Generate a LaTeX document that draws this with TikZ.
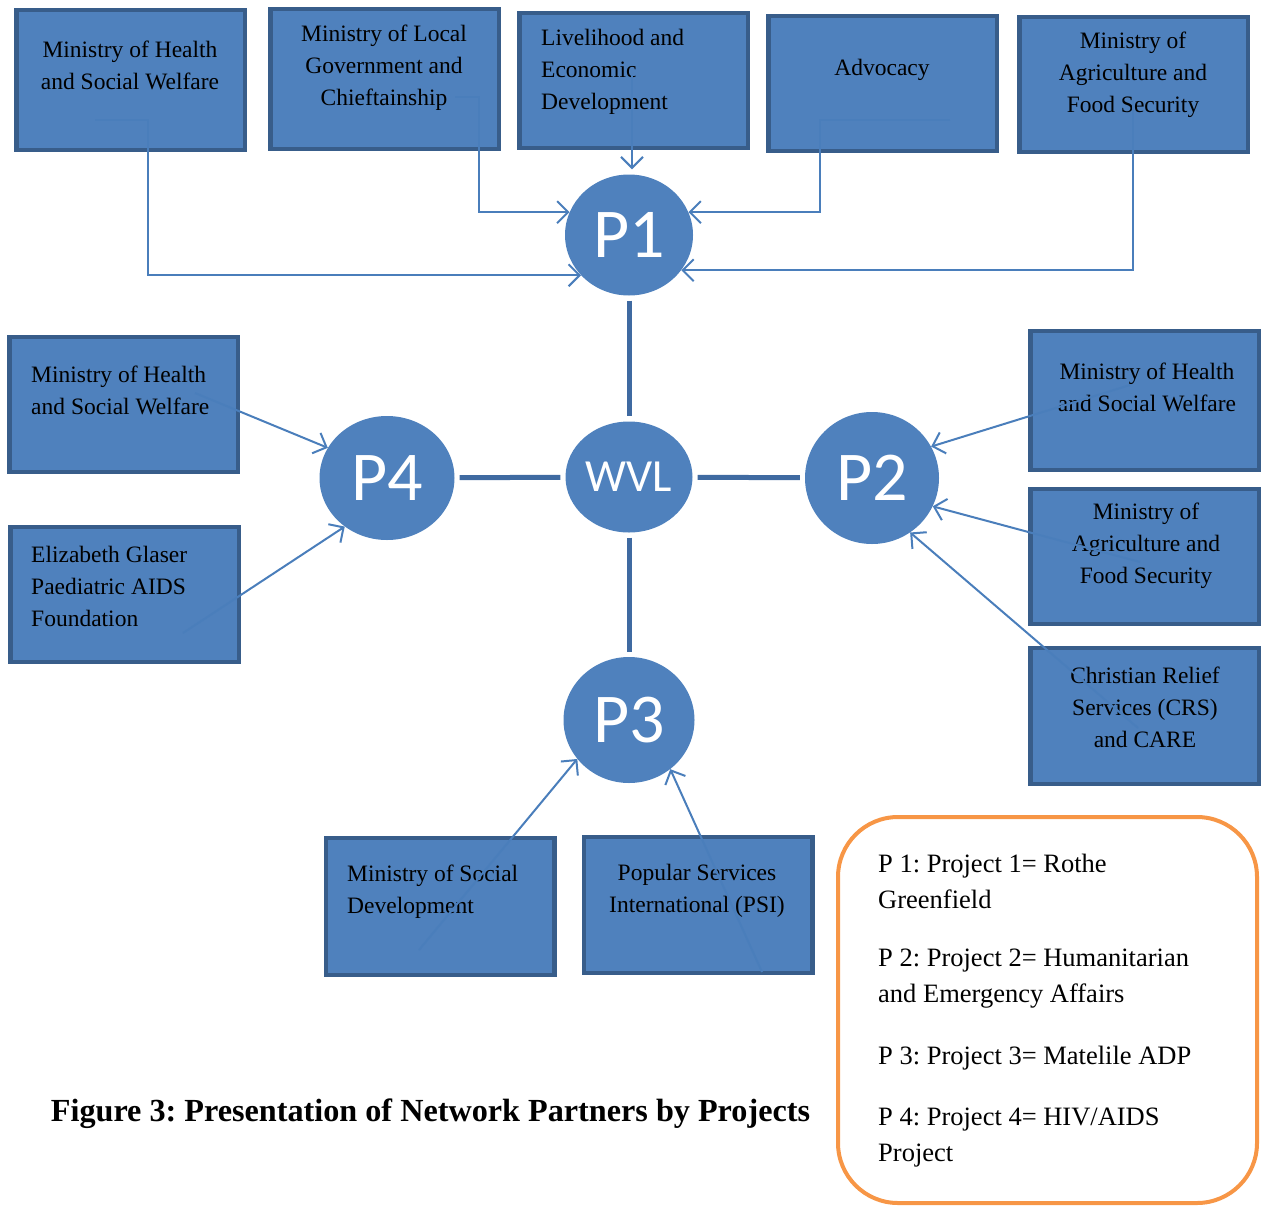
\documentclass[tikz,border=0pt]{standalone}
\usepackage{fontspec}
\setmainfont{Liberation Serif}
\newfontfamily\carl{Carlito}
\usetikzlibrary{shapes.geometric,arrows.meta}
\definecolor{bfill}{HTML}{4F81BD}
\definecolor{bborder}{HTML}{385D8A}
\definecolor{conncol}{HTML}{4A7EBB}
\definecolor{linkcol}{HTML}{3F6AA1}
\definecolor{legcol}{HTML}{F79646}
\frenchspacing
\begin{document}
\begin{tikzpicture}[x=1pt,y=-1pt,
  box/.style={draw=bborder,fill=bfill,line width=4.5pt,minimum width=228.5pt,inner sep=0pt},
  txt/.style={font=\fontsize{23.5}{32}\selectfont,inner sep=0pt},
  ctxt/.style={txt,align=center},
  ltxt/.style={txt,align=left,anchor=west},
  proj/.style={ellipse,fill=bfill,inner sep=0pt,text=white,font=\carl\fontsize{70}{70}\selectfont},
  conn/.style={draw=conncol,line width=2pt,-{Straight Barb[length=11pt,width=22pt,line width=2pt]}},
  link/.style={draw=linkcol,line width=5pt,shorten <=5pt,shorten >=5pt},
  legtxt/.style={font=\fontsize{26.5}{36}\selectfont,align=left,anchor=west,inner sep=0pt}
]
\useasboundingbox (0,0) rectangle (1261,1205);

% boxes
\node[box,minimum height=140pt] (b1) at (130.5,80) {};
\node[box,minimum height=140pt] (b2) at (384.5,79) {};
\node[box,minimum height=135pt] (b3) at (633.5,80.5) {};
\node[box,minimum height=135pt] (b4) at (882.5,83.5) {};
\node[box,minimum height=135pt] (b5) at (1133.5,84.5) {};
\node[box,minimum height=135pt] (b6) at (123.5,404.5) {};
\node[box,minimum height=135pt] (b7) at (124.5,594.5) {};
\node[box,minimum height=139pt] (b8) at (1144.5,400.5) {};
\node[box,minimum height=135pt] (b9) at (1144.5,556.5) {};
\node[box,minimum height=136pt] (b10) at (1144.5,716) {};
\node[box,minimum height=137pt] (b11) at (440,906.5) {};
\node[box,minimum height=136pt] (b12) at (698,905) {};

% box texts
\node[ctxt] (t1) at (130,65) {Ministry of Health\\and Social Welfare};
\node[ctxt] (t2) at (384,68) {Ministry of Local\\Government and\\Chieftainship};
\node[ltxt] (t3) at (541,72) {Livelihood and\\Economic\\Development};
\node[ctxt] (t4) at (882,70) {Advocacy};
\node[ctxt] (t5) at (1133,75) {Ministry of\\Agriculture and\\Food Security};
\node[ltxt] (t6) at (31,390) {Ministry of Health\\and Social Welfare};
\node[ltxt] (t7) at (31,586) {Elizabeth Glaser\\Paediatric AIDS\\Foundation};
\node[ctxt] (t8) at (1147,387) {Ministry of Health\\and Social Welfare};
\node[ctxt] (t9) at (1146,546) {Ministry of\\Agriculture and\\Food Security};
\node[ctxt] (t10) at (1145,707) {Christian Relief\\Services (CRS)\\and CARE};
\node[ltxt] (t11) at (347,892) {Ministry of Social\\Development};
\node[ctxt] (t12) at (697,891) {Popular Services\\International (PSI)};

% project circles
\node[proj,minimum width=128pt,minimum height=121pt] (P1) at (629,235) {P1};
\node[proj,minimum width=135pt,minimum height=124pt] (P4) at (387,478) {P4};
\node[proj,minimum width=127pt,minimum height=111pt,font=\carl\fontsize{46}{46}\selectfont] (WVL) at (629,477) {WVL};
\node[proj,minimum width=134pt,minimum height=132pt] (P2) at (872,478) {P2};
\node[proj,minimum width=131pt,minimum height=126pt] (P3) at (629,720) {P3};

% links to WVL
\draw[link] (P1) -- (WVL);
\draw[link] (WVL) -- (P4);
\draw[link] (WVL) -- (P2);
\draw[link] (WVL) -- (P3);

% connector start points and corners
\coordinate (s1) at (95,120);
\coordinate (k1) at (148,120);
\coordinate (s2) at (455,97);
\coordinate (k2) at (479,97);
\coordinate (s3) at (632,75);
\coordinate (s4) at (950,120);
\coordinate (k4) at (820,120);
\coordinate (s5) at (1133,100);
\coordinate (s6) at (195,393);
\coordinate (s7) at (183,633);
\coordinate (s8) at (1130,385);
\coordinate (s9) at (1140,562);
\coordinate (s10) at (1138,728);
\coordinate (s11) at (419,950);
\coordinate (s12) at (762,972);

% connectors
\draw[conn] (s1) -- (k1) |- (P1.220);
\draw[conn] (s2) -- (k2) |- (P1.159);
\draw[conn,shorten >=5pt] (s3) -- (s3 |- P1.north);
\draw[conn] (s4) -- (k4) |- (P1.21);
\draw[conn] (s5) |- (P1.-34);
\draw[conn] (s6) -- (P4.153);
\draw[conn] (s7) -- (P4.229);
\draw[conn] (s8) -- (P2.28);
\draw[conn] (s9) -- (P2.-25);
\draw[conn] (s10) -- (P2.-55);
\draw[conn] (s11) -- (P3.217);
\draw[conn] (s12) -- (P3.-50);

% legend
\draw[legcol,line width=4pt,rounded corners=60pt] (838,817) rectangle (1257,1203);
\node[legtxt] (l1) at (878,881) {P 1: Project 1= Rothe\\Greenfield};
\node[legtxt] (l2) at (878,979) {P 2: Project 2= Humanitarian\\and Emergency Affairs};
\node[legtxt] (l3) at (878,1058) {P 3: Project 3= Matelile ADP};
\node[legtxt] (l4) at (878,1138) {P 4: Project 4= HIV/AIDS\\Project};

% caption
\node[font=\bfseries\fontsize{32.2}{36}\selectfont,inner sep=0pt] (cap) at (430.5,1114) {Figure 3: Presentation of Network Partners by Projects};
\end{tikzpicture}
\end{document}
